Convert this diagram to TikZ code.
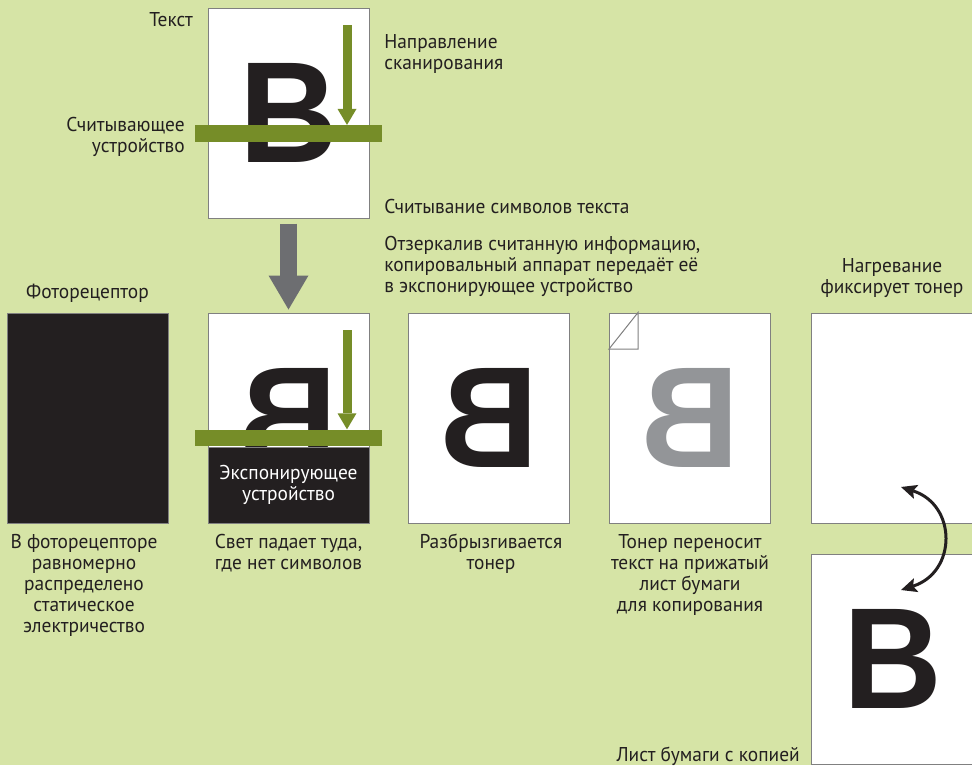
\documentclass[tikz,border=0pt]{standalone}
\usepackage{fontspec}
\usepackage{graphicx}
\setmainfont{PT Sans}[FakeStretch=0.97]
\newfontfamily\letterfont{Liberation Sans}[FakeStretch=0.95]
\usetikzlibrary{arrows.meta}

\definecolor{bg}{RGB}{214,228,166}
\definecolor{barcol}{RGB}{118,141,40}
\definecolor{ink}{RGB}{35,31,32}
\definecolor{feedcol}{RGB}{109,110,113}
\definecolor{tonercol}{RGB}{147,149,152}
\definecolor{pageline}{RGB}{128,128,128}

\newcommand\lblfont{\fontsize{15}{15.75}\selectfont}

\tikzset{
  page/.style={draw=pageline, line width=0.75pt, fill=white, inner sep=0pt, minimum width=120.75pt, minimum height=157.5pt},
  widepage/.style={page, minimum width=123pt},
  darkpage/.style={page, fill=ink},
  bar/.style={fill=barcol, inner sep=0pt, minimum width=140.25pt, minimum height=12.5pt},
  letter/.style={inner sep=0pt, font=\letterfont\bfseries\fontsize{108}{108}\selectfont, text=ink},
  lbl/.style={inner sep=0pt, font=\lblfont, text=ink, align=center},
  scanarrow/.style={draw=barcol, line width=6.75pt, -{Triangle[width=14.25pt,length=12pt,line width=0pt]}},
  feedarrow/.style={draw=feedcol, line width=12.75pt, -{Triangle[width=30pt,length=25.5pt,line width=0pt]}, shorten <=3.75pt, shorten >=2.25pt},
  swaparrow/.style={draw=ink, line width=2.25pt, {Stealth[length=12pt,width=11pt,inset=2.5pt,line width=0pt]}-{Stealth[length=12pt,width=11pt,inset=2.5pt,line width=0pt]}},
}

\begin{document}
\begin{tikzpicture}[x=0.75pt,y=0.75pt,yscale=-1,xscale=1]
\fill[bg] (0,0) rectangle (972,765);
\useasboundingbox (0,0) rectangle (972,765);

%Scanned page
\node[page] (scan) at (288.5,113) {};
\node[letter] (scanB) at (scan) {B};
\node[bar] (scanbar) at (288.5,133.5) {};
\coordinate (scanstart) at (347,25);
\draw[scanarrow] (scanstart) -- (scanstart |- scanbar.north);

%Photoreceptor
\node[darkpage] (photo) at (87.5,418) {};

%Exposure
\node[page] (expose) at (288.5,418) {};
\node[letter] (exposeB) at (expose) {\reflectbox{B}};
\node[darkpage, minimum height=57pt, anchor=south, text=white, font=\lblfont, align=center] (exposer) at (expose.south) {Экспонирующее\\устройство};
\node[bar, anchor=south] (exposebar) at (exposer.north) {};
\coordinate (exposestart) at (347,330);
\draw[scanarrow] (exposestart) -- (exposestart |- exposebar.north);
\draw[feedarrow] (scan.south) -- (expose.north);

%Toner
\node[page] (toner) at (489,418) {};
\node[letter] (tonerB) at (toner) {\reflectbox{B}};

%Transfer
\node[page] (transfer) at (690,418) {};
\node[letter, text=tonercol] (transferB) at (transfer) {\reflectbox{B}};
\coordinate (fold) at (638,349);
\draw[pageline, line width=0.75pt] (transfer.north west |- fold) -- (fold) -- (fold |- transfer.north west) -- cycle;

%Fixing and copy
\node[widepage] (heat) at (893,418) {};
\node[widepage] (copy) at (893,659) {};
\node[letter] (copyB) at (copy) {B};
\coordinate (heatend) at (901,487);
\coordinate (copyend) at (901,590);
\draw[swaparrow] (heatend) .. controls (957,505) and (957,572) .. (copyend);

% Text Node (multi-line nodes sit on their last baseline)
\node[lbl, anchor=base east] (textlbl) at (193,26) {Текст};
\node[lbl, anchor=base west, align=left] (dirlbl) at (384,69) {Направление\\сканирования};
\node[lbl, anchor=base east, align=right] (readerlbl) at (185,152) {Считывающее\\устройство};
\node[lbl, anchor=base west] (readlbl) at (384,213) {Считывание символов текста};
\node[lbl, anchor=base west, align=left] (mirrorlbl) at (384,292) {Отзеркалив считанную информацию,\\копировальный аппарат передаёт её\\в экспонирующее устройство};
\node[lbl, anchor=base] (photolbl) at (87.5,298) {Фоторецептор};
\node[lbl, anchor=base] (heatlbl) at (892,293) {Нагревание\\фиксирует тонер};
\node[lbl, anchor=base] (chargelbl) at (84,632) {В фоторецепторе\\равномерно\\распределено\\статическое\\электричество};
\node[lbl, anchor=base] (lightlbl) at (288.5,569) {Свет падает туда,\\где нет символов};
\node[lbl, anchor=base] (spraylbl) at (491,569) {Разбрызгивается\\тонер};
\node[lbl, anchor=base] (transferlbl) at (690,611) {Тонер переносит\\текст на прижатый\\лист бумаги\\для копирования};
\node[lbl, anchor=base east] (copylbl) at (800,761) {Лист бумаги с копией};

\end{tikzpicture}
\end{document}
